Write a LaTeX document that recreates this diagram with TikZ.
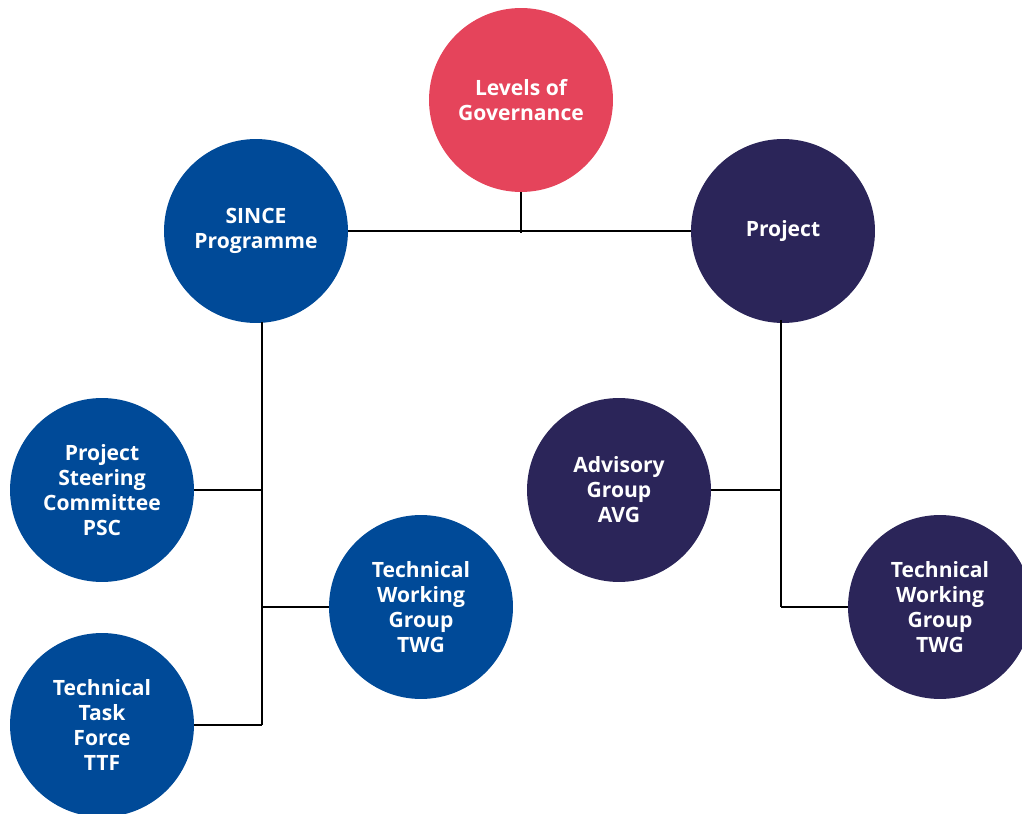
\documentclass[tikz,border=0pt]{standalone}
\usepackage{fontspec}
\setmainfont{Open Sans}
\usetikzlibrary{positioning}
\definecolor{govred}{RGB}{229,68,91}
\definecolor{govblue}{RGB}{0,74,152}
\definecolor{govnavy}{RGB}{43,37,89}

\begin{document}
\begin{tikzpicture}[x=0.02cm, y=-0.02cm,
    level/.style={circle, minimum size=3.68cm, inner sep=0pt, align=center,
        text=white, font=\fontsize{12}{14.2}\selectfont\bfseries},
    link/.style={line width=1.3pt, black}]
    \useasboundingbox (0,0) rectangle (1022,814);

    % circles
    \node[level, fill=govred]   (gov)  at (521,100) {Levels of\\Governance};
    \node[level, fill=govblue]  (since) at (256,231) {SINCE\\Programme};
    \node[level, fill=govnavy]  (proj) at (783,231) {Project};
    \node[level, fill=govblue]  (psc)  at (102,490) {Project\\Steering\\Committee\\PSC};
    \node[level, fill=govblue]  (twgl) at (421,607) {Technical\\Working\\Group\\TWG};
    \node[level, fill=govblue]  (ttf)  at (102,725) {Technical\\Task\\Force\\TTF};
    \node[level, fill=govnavy]  (avg)  at (619,490) {Advisory\\Group\\AVG};
    \node[level, fill=govnavy]  (twgr) at (940,607) {Technical\\Working\\Group\\TWG};

    % trunks
    \coordinate (ltop) at (262,322);
    \coordinate (lbot) at (262,725);
    \coordinate (rtop) at (781,320);
    \coordinate (rbot) at (781,607);
    \coordinate (hbar) at (520,233);

    \draw[link] (since.east) -- (proj.west);
    \draw[link] (gov.south) -- (gov.south |- hbar);
    \draw[link] (ltop) -- (lbot);
    \draw[link] (psc.east) -- (psc.east -| ltop);
    \draw[link] (twgl.west) -- (twgl.west -| ltop);
    \draw[link] (ttf.east) -- (ttf.east -| ltop);
    \draw[link] (rtop) -- (rbot);
    \draw[link] (avg.east) -- (avg.east -| rtop);
    \draw[link] (twgr.west) -- (twgr.west -| rtop);
\end{tikzpicture}
\end{document}
